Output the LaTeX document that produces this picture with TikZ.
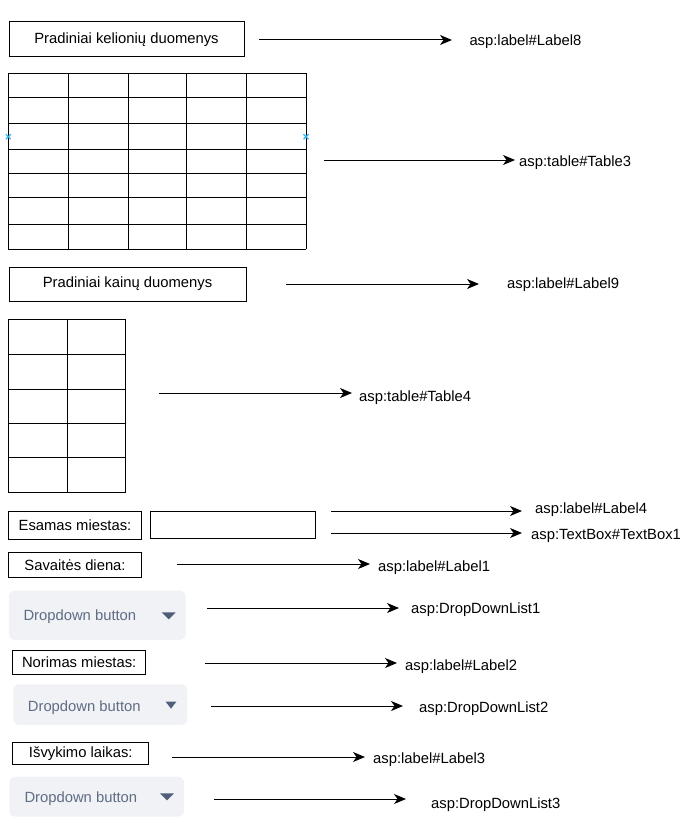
\documentclass[tikz,border=0pt]{standalone}
\usepackage{fontspec}
\setmainfont{Liberation Sans}
\usetikzlibrary{arrows.meta}
\definecolor{ddfill}{HTML}{F1F2F5}
\definecolor{ddtext}{HTML}{5E6C84}
\definecolor{ddarrow}{HTML}{505F79}
\definecolor{markblue}{HTML}{29B6F2}
\begin{document}
\begin{tikzpicture}[x=1pt,y=-1pt,
  txtfont/.style={font=\fontsize{14.8}{17}\selectfont},
  lbl/.style={draw=black,line width=1pt,inner sep=0pt,txtfont},
  ddbox/.style={fill=ddfill,rounded corners=6pt,inner sep=0pt},
  ddlabel/.style={anchor=west,inner sep=0pt,text=ddtext,txtfont,yshift=-2pt},
  ddtri/.style={fill=ddarrow},
  asp/.style={anchor=west,inner sep=0pt,txtfont,yshift=-1.5pt},
  conn/.style={line width=1pt,-{Stealth[length=12pt,width=10pt,inset=3.5pt]}},
  gridline/.style={line width=1pt,draw=black},
  xmark/.style={draw=markblue,line width=1.2pt}]
\useasboundingbox (0,0) rectangle (698,824);

% --- label 8 ---
\node[lbl,minimum width=235pt,minimum height=35pt] (l8) at (126.5,39.5) {Pradiniai kelionių duomenys};
\coordinate (a1s) at (259,40); \coordinate (a1e) at (452,40);
\draw[conn] (a1s) -- (a1e);
\node[asp] (t1) at (469.3,40) {asp:label\#Label8};

% --- table 3 ---
\foreach \y in {73.3,97.7,124,149.3,173.3,197.7,224,249}
  \draw[gridline] (8.3,\y) -- (306,\y);
\foreach \x in {8.3,68.7,128.7,186,246.7,306}
  \draw[gridline] (\x,73.3) -- (\x,249);
\coordinate (xm1) at (8.3,136.7);
\coordinate (xm2) at (306,136.7);
\foreach \c in {xm1,xm2}{
  \draw[xmark] ([shift={(-2.5,-2.5)}]\c) -- ([shift={(2.5,2.5)}]\c);
  \draw[xmark] ([shift={(-2.5,2.5)}]\c) -- ([shift={(2.5,-2.5)}]\c);
}
\coordinate (a2s) at (324,160); \coordinate (a2e) at (515,160);
\draw[conn] (a2s) -- (a2e);
\node[asp] (t2) at (519,161) {asp:table\#Table3};

% --- label 9 ---
\node[lbl,minimum width=237pt,minimum height=34pt] (l9) at (127.5,284) {Pradiniai kainų duomenys};
\coordinate (a3s) at (286,284); \coordinate (a3e) at (479,284);
\draw[conn] (a3s) -- (a3e);
\node[asp] (t3) at (507,283) {asp:label\#Label9};

% --- table 4 ---
\foreach \y in {319,354,389,423.3,457.7,492.7}
  \draw[gridline] (8.3,\y) -- (125.3,\y);
\foreach \x in {8.3,67.7,125.3}
  \draw[gridline] (\x,319) -- (\x,492.7);
\coordinate (a4s) at (159,393); \coordinate (a4e) at (352,393);
\draw[conn] (a4s) -- (a4e);
\node[asp] (t4) at (359,396) {asp:table\#Table4};

% --- esamas miestas + textbox ---
\node[lbl,minimum width=133.4pt,minimum height=27.6pt] (l4) at (75,525.5) {Esamas miestas:};
\node[lbl,minimum width=164.7pt,minimum height=26.6pt] (tb1) at (233.3,525) {};
\coordinate (a5s) at (331,511); \coordinate (a5e) at (522,511);
\draw[conn] (a5s) -- (a5e);
\node[asp] (t5) at (535,508) {asp:label\#Label4};
\coordinate (a6s) at (331,533); \coordinate (a6e) at (522,533);
\draw[conn] (a6s) -- (a6e);
\node[asp] (t6) at (531,534) {asp:TextBox\#TextBox1};

% --- savaites diena ---
\node[lbl,minimum width=133.4pt,minimum height=25pt] (l1) at (75,564.8) {Savaitės diena:};
\coordinate (a7s) at (177,564); \coordinate (a7e) at (370,564);
\draw[conn] (a7s) -- (a7e);
\node[asp] (t7) at (378,566) {asp:label\#Label1};

% --- dropdown 1 ---
\node[ddbox,minimum width=176.7pt,minimum height=49.3pt] (dd1) at (97.3,615.3) {};
\node[ddlabel] (dd1t) at (23.3,615) {Dropdown button};
\fill[ddtri] (161.7,612.3) -- (175.7,612.3) -- (168.7,619.3) -- cycle;
\coordinate (a8s) at (207,608); \coordinate (a8e) at (399,608);
\draw[conn] (a8s) -- (a8e);
\node[asp] (t8) at (411,608) {asp:DropDownList1};

% --- norimas miestas ---
\node[lbl,minimum width=133pt,minimum height=23.6pt] (l2) at (79.2,662.5) {Norimas miestas:};
\coordinate (a9s) at (205,663); \coordinate (a9e) at (397,663);
\draw[conn] (a9s) -- (a9e);
\node[asp] (t9) at (405,665) {asp:label\#Label2};

% --- dropdown 2 ---
\node[ddbox,minimum width=174pt,minimum height=40.7pt] (dd2) at (100.3,704.7) {};
\node[ddlabel] (dd2t) at (27.7,705.7) {Dropdown button};
\fill[ddtri] (165.7,701.7) -- (176.3,701.7) -- (171,708.7) -- cycle;
\coordinate (a10s) at (211,706); \coordinate (a10e) at (403,706);
\draw[conn] (a10s) -- (a10e);
\node[asp] (t10) at (419,707) {asp:DropDownList2};

% --- isvykimo laikas ---
\node[lbl,minimum width=136.3pt,minimum height=22pt] (l3) at (80.8,753.3) {Išvykimo laikas:};
\coordinate (a11s) at (172,757); \coordinate (a11e) at (365,757);
\draw[conn] (a11s) -- (a11e);
\node[asp] (t11) at (373,758) {asp:label\#Label3};

% --- dropdown 3 ---
\node[ddbox,minimum width=174.7pt,minimum height=40pt] (dd3) at (96.7,796.7) {};
\node[ddlabel] (dd3t) at (24.3,796.7) {Dropdown button};
\fill[ddtri] (160,793.3) -- (174,793.3) -- (167,800.3) -- cycle;
\coordinate (a12s) at (214,799); \coordinate (a12e) at (406,799);
\draw[conn] (a12s) -- (a12e);
\node[asp] (t12) at (431,803) {asp:DropDownList3};
\end{tikzpicture}
\end{document}
